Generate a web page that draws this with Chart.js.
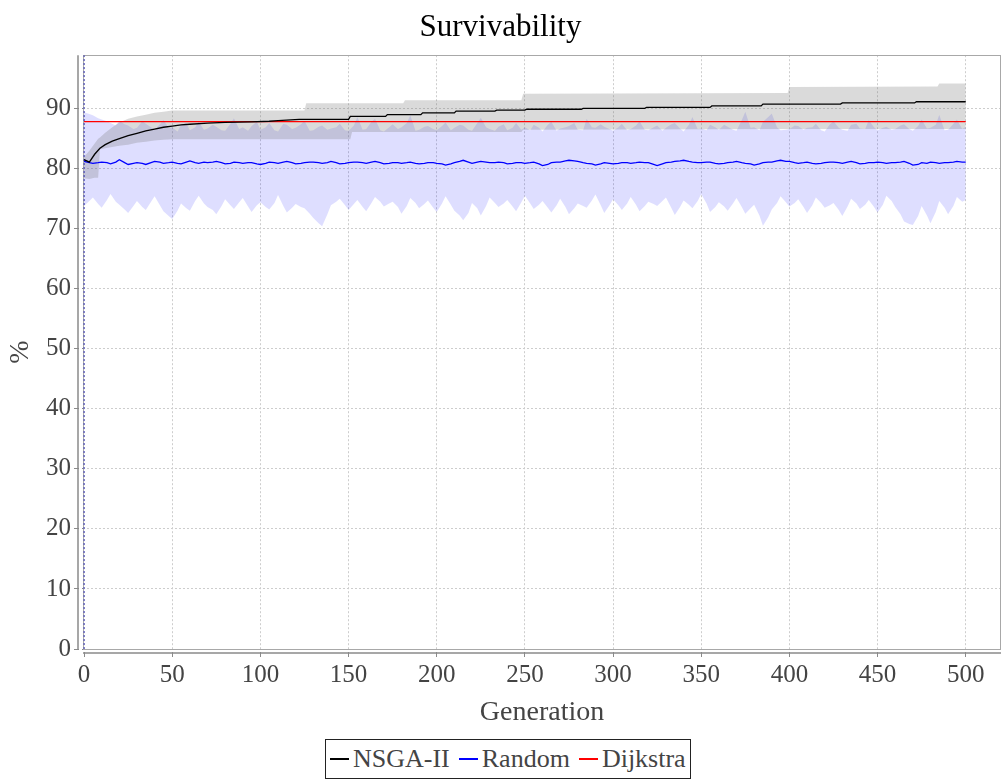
<!DOCTYPE html>
<html>
<head>
<meta charset="utf-8">
<script src="https://cdn.jsdelivr.net/npm/chart.js@4.4.1/dist/chart.umd.min.js"></script>
<style>
html, body { margin: 0; padding: 0; background: #fff; }
#wrap { position: relative; width: 1003px; height: 780px; overflow: hidden; }
canvas { display: block; }
#legend {
  position: absolute; left: 325px; top: 739px; height: 40px;
  border: 1px solid #222; box-sizing: border-box; padding: 0 4px;
  font-family: 'Liberation Serif', 'Times New Roman', serif; font-size: 26px; color: #444;
  display: flex; align-items: center; white-space: nowrap; background: #fff;
}
#legend .item { display: flex; align-items: center; margin-right: 9px; }
#legend .item:last-child { margin-right: 0; }
#legend .sw { display: inline-block; width: 19px; height: 1.3px; margin-right: 4px; }
</style>
</head>
<body>
<div id="wrap">
  <canvas id="c" width="1003" height="780"></canvas>
  <div id="legend"></div>
</div>
<script>
// ---------- data ----------
const seriesNames = ['NSGA-II', 'Random', 'Dijkstra'];
const seriesColors = ['#000000', '#0000ff', '#ff0000'];

// Random: readings at generations 0,5,10,...,500
const generations = [0,5,10,15,20,25,30,35,40,45,50,55,60,65,70,75,80,85,90,95,
  100,105,110,115,120,125,130,135,140,145,150,155,160,165,170,175,180,185,190,195,
  200,205,210,215,220,225,230,235,240,245,250,255,260,265,270,275,280,285,290,295,
  300,305,310,315,320,325,330,335,340,345,350,355,360,365,370,375,380,385,390,395,
  400,405,410,415,420,425,430,435,440,445,450,455,460,465,470,475,480,485,490,495,500];

const randomMean = [
  81.2, 80.9, 81.1, 80.8, 81.5, 80.7, 81.0, 80.7, 81.2, 80.9,
  81.1, 80.8, 81.3, 80.9, 81.0, 81.2, 80.8, 81.1, 80.9, 81.0,
  80.7, 81.1, 80.9, 81.2, 80.8, 81.0, 81.1, 80.9, 81.2, 80.8,
  81.0, 81.1, 80.9, 81.2, 80.8, 81.0, 80.9, 81.1, 80.8, 81.0,
  80.9, 80.6, 81.0, 81.4, 80.9, 81.2, 81.0, 81.1, 80.8, 81.0,
  80.9, 81.1, 80.5, 81.0, 81.1, 81.4, 81.2, 80.9, 80.6, 81.0,
  80.8, 81.0, 80.9, 81.1, 81.0, 80.5, 81.0, 81.2, 81.4, 81.1,
  81.0, 81.1, 80.8, 81.0, 81.2, 80.9, 80.6, 81.0, 81.1, 81.4,
  81.2, 80.9, 81.1, 80.8, 81.0, 81.1, 80.9, 81.2, 80.8, 81.0,
  81.1, 80.9, 81.0, 81.2, 80.6, 81.0, 81.1, 80.9, 81.0, 81.2,
  81.1];

const randomMax = [
  89.4, 88.9, 88.2, 87.6, 88.0, 87.2, 86.8, 87.5, 86.5, 88.1,
  86.9, 87.3, 86.4, 87.8, 86.7, 87.0, 86.3, 88.4, 86.9, 87.1,
  86.5, 87.6, 86.2, 87.3, 86.8, 88.0, 86.4, 87.2, 86.7, 87.5,
  86.3, 88.6, 86.6, 88.3, 86.2, 87.4, 86.9, 88.9, 86.5, 87.1,
  86.4, 87.7, 86.8, 87.2, 86.3, 88.5, 86.6, 87.0, 86.4, 87.6,
  86.9, 87.3, 86.2, 87.8, 86.7, 87.1, 86.5, 88.3, 86.8, 87.0,
  86.3, 87.5, 86.6, 87.9, 86.4, 87.2, 86.8, 87.6, 86.2, 88.6,
  86.7, 87.3, 86.5, 87.0, 86.3, 89.5, 86.9, 87.8, 89.2, 86.4,
  86.6, 87.1, 86.8, 87.5, 86.2, 87.9, 86.5, 87.3, 86.7, 88.1,
  86.4, 87.0, 86.6, 87.4, 86.3, 88.2, 86.8, 89.0, 86.5, 88.2,
  87.0];

const randomMin = [
  73.8, 75.2, 73.5, 75.8, 74.0, 72.6, 74.6, 73.1, 75.4, 72.9,
  71.6, 74.2, 73.0, 75.5, 73.6, 72.4, 74.9, 73.3, 75.1, 72.8,
  74.4, 73.2, 75.6, 72.7, 74.1, 73.4, 71.8, 70.4, 73.9, 75.0,
  73.1, 74.8, 72.9, 75.3, 73.7, 74.5, 72.5, 75.1, 73.4, 74.7,
  72.8, 75.4, 73.0, 71.4, 74.3, 72.2, 75.2, 73.6, 74.8, 72.9,
  75.5, 73.3, 74.6, 72.7, 75.0, 72.4, 74.2, 73.5, 75.7, 72.6,
  74.9, 73.1, 75.3, 72.9, 74.5, 73.8, 75.2, 72.3, 74.7, 73.4,
  75.8, 72.8, 74.4, 73.0, 75.1, 72.5, 74.0, 70.5, 73.2, 75.4,
  73.7, 74.9, 72.6, 75.2, 73.5, 74.3, 72.1, 75.0, 73.3, 74.8,
  72.7, 75.5, 73.6, 71.2, 70.6, 73.8, 70.9, 74.6, 72.4, 75.3,
  74.8];

// Random: extra readings at generations 3,8,13,...,498
const generationsB = [3,8,13,18,23,28,33,38,43,48,53,58,63,68,73,78,83,88,93,98,
  103,108,113,118,123,128,133,138,143,148,153,158,163,168,173,178,183,188,193,198,
  203,208,213,218,223,228,233,238,243,248,253,258,263,268,273,278,283,288,293,298,
  303,308,313,318,323,328,333,338,343,348,353,358,363,368,373,378,383,388,393,398,
  403,408,413,418,423,428,433,438,443,448,453,458,463,468,473,478,483,488,493,498];

const randomMeanB = [
  81.0, 81.0, 81.0, 81.1, 81.0, 80.9, 80.9, 81.0, 81.1, 81.0,
  80.9, 81.1, 81.0, 81.1, 81.1, 81.0, 80.9, 81.0, 81.0, 80.8,
  80.9, 81.0, 81.1, 81.0, 80.9, 81.1, 81.0, 81.0, 81.0, 80.9,
  81.1, 81.0, 81.1, 81.0, 80.9, 81.0, 81.0, 80.9, 80.9, 81.0,
  80.8, 80.8, 81.2, 81.1, 81.1, 81.1, 81.0, 81.0, 80.9, 81.0,
  81.0, 80.8, 80.7, 81.1, 81.3, 81.3, 81.0, 80.8, 80.8, 80.9,
  80.9, 81.0, 81.0, 81.0, 80.7, 80.8, 81.1, 81.3, 81.2, 81.0,
  81.1, 80.9, 80.9, 81.1, 81.0, 80.8, 80.8, 81.1, 81.3, 81.2,
  81.0, 81.0, 80.9, 80.9, 81.1, 81.0, 81.1, 81.0, 80.9, 81.0,
  81.0, 81.0, 81.1, 80.9, 80.7, 80.9, 81.0, 81.0, 81.1, 81.1];

const randomMaxB = [
  89.1, 88.4, 87.9, 87.2, 87.4, 86.6, 87.9, 86.9, 87.4, 86.8,
  86.2, 87.6, 86.9, 86.5, 87.3, 86.4, 87.5, 86.6, 86.3, 87.8,
  86.9, 86.4, 87.5, 86.6, 87.4, 86.3, 87.0, 86.5, 86.9, 86.4,
  87.2, 86.5, 87.8, 86.4, 86.9, 86.6, 87.6, 86.3, 87.0, 86.6,
  87.1, 86.4, 87.3, 86.5, 87.6, 86.9, 86.3, 87.4, 86.8, 86.5,
  86.4, 86.8, 87.3, 86.3, 86.9, 87.6, 86.4, 86.9, 87.4, 86.6,
  86.9, 86.4, 87.2, 86.5, 86.9, 86.3, 87.4, 86.7, 87.3, 86.6,
  86.4, 86.9, 87.3, 86.5, 88.1, 86.8, 86.4, 88.6, 86.9, 86.5,
  87.2, 86.5, 86.9, 86.4, 87.4, 86.8, 86.3, 87.5, 86.6, 86.9,
  86.8, 86.5, 87.2, 86.6, 87.1, 86.7, 87.3, 86.4, 87.5, 86.6];

const randomMinB = [
  74.6, 74.1, 74.8, 74.5, 73.2, 73.8, 73.6, 74.5, 73.9, 72.1,
  73.0, 73.4, 74.6, 74.2, 73.1, 73.8, 73.9, 74.4, 73.7, 73.9,
  73.6, 74.3, 73.8, 73.5, 73.6, 72.5, 70.9, 72.4, 74.5, 73.9,
  74.1, 73.6, 74.3, 74.5, 74.2, 73.6, 73.8, 74.3, 74.1, 73.5,
  74.2, 74.0, 72.2, 72.6, 73.4, 73.8, 74.3, 74.2, 73.7, 74.4,
  74.2, 74.0, 73.5, 73.9, 73.6, 73.4, 73.8, 74.7, 73.9, 73.9,
  73.9, 74.2, 74.0, 73.8, 74.1, 74.6, 73.5, 73.6, 74.0, 74.6,
  74.2, 73.6, 73.7, 74.2, 73.6, 73.4, 72.2, 71.9, 74.3, 74.4,
  74.3, 73.6, 73.9, 74.3, 73.9, 73.1, 73.7, 74.2, 74.0, 73.6,
  74.0, 74.6, 72.4, 70.8, 72.1, 72.2, 72.8, 73.5, 73.8, 74.5];

const randomStartGen = [0, 0];
const randomStart = [0, 100];

const nsgaBandGen = [0, 3, 6, 8, 9, 12, 16, 20, 25, 30, 35, 40, 45, 50, 125, 126, 151, 152, 181, 182, 248, 249, 399, 400, 484, 485, 500];
const nsgaMax = [82.0, 83.0, 84.2, 85.0, 85.2, 86.0, 86.9, 87.7, 88.3, 88.7, 89.0, 89.3, 89.5, 89.7, 89.7, 90.9, 90.9, 90.9, 90.9, 91.4, 91.4, 92.5, 92.6, 93.6, 93.7, 94.2, 94.2];
const nsgaMin = [78.4, 78.3, 78.5, 78.5, 83.2, 83.4, 83.6, 83.8, 84.0, 84.3, 84.5, 84.7, 84.8, 84.9, 84.9, 84.9, 84.9, 86.1, 86.1, 86.1, 86.1, 86.5, 86.6, 86.6, 86.6, 86.6, 86.6];

const nsgaMeanGen = [0, 3, 6, 9, 12, 16, 20, 25, 30, 35, 40, 45, 50, 55, 60, 70, 80, 95, 105, 110,
  122, 150, 151, 171, 172, 191, 192, 210, 211, 233, 234, 250, 251, 282, 283, 318, 319, 355, 356, 384,
  385, 429, 430, 471, 472, 500];
const nsgaMean = [81.5, 81.1, 82.4, 83.4, 84.0, 84.6, 85.0, 85.5, 85.9, 86.3, 86.6, 86.9, 87.1, 87.3, 87.4, 87.6, 87.7, 87.8, 87.9, 88.0,
  88.2, 88.2, 88.7, 88.7, 89.0, 89.0, 89.3, 89.3, 89.6, 89.6, 89.75, 89.75, 89.9, 89.9, 90.05, 90.05, 90.2, 90.2, 90.45, 90.45,
  90.75, 90.75, 90.95, 90.95, 91.15, 91.15];

const dijkstraGen = [0, 500];
const dijkstra = [87.85, 87.85];

const xTickValues = [0, 50, 100, 150, 200, 250, 300, 350, 400, 450, 500];
const yTickValues = [0, 10, 20, 30, 40, 50, 60, 70, 80, 90];

// ---------- chart ----------
const FONT = "'Liberation Serif', 'Times New Roman', serif";
const toXY = (xs, ys) => xs.map((x, i) => ({ x: x, y: ys[i] }));
const merged = (xa, ya, xb, yb) => toXY(xa, ya).concat(toXY(xb, yb)).sort((p, q) => p.x - q.x);
const NONE = 'rgba(0,0,0,0)';

const datasets = [
  { label: seriesNames[0], data: toXY(nsgaMeanGen, nsgaMean), borderColor: seriesColors[0], borderWidth: 1.3, order: 0 },
  { label: seriesNames[2], data: toXY(dijkstraGen, dijkstra), borderColor: seriesColors[2], borderWidth: 1.3, order: 1 },
  { label: seriesNames[1], data: merged(generations, randomMean, generationsB, randomMeanB), borderColor: seriesColors[1], borderWidth: 1.3, order: 2 },
  { label: '_randomStart', data: toXY(randomStartGen, randomStart), borderColor: 'rgba(50,50,190,0.9)', borderWidth: 1, borderDash: [2, 2], order: 3 },
  { label: '_nsgaMax', data: toXY(nsgaBandGen, nsgaMax), borderColor: NONE, borderWidth: 0, backgroundColor: 'rgba(120,120,120,0.27)', fill: '+1', order: 4 },
  { label: '_nsgaMin', data: toXY(nsgaBandGen, nsgaMin), borderColor: NONE, borderWidth: 0, fill: false, order: 5 },
  { label: '_randomMax', data: merged(generations, randomMax, generationsB, randomMaxB), borderColor: NONE, borderWidth: 0, backgroundColor: 'rgba(0,0,255,0.13)', fill: '+1', order: 6 },
  { label: '_randomMin', data: merged(generations, randomMin, generationsB, randomMinB), borderColor: NONE, borderWidth: 0, fill: false, order: 7 }
];

const axisFrame = {
  id: 'axisFrame',
  beforeDatasetsDraw(chart) {
    const { ctx, chartArea: a } = chart;
    ctx.save();
    ctx.strokeStyle = '#a8a8a8';
    ctx.lineWidth = 1;
    ctx.strokeRect(Math.round(a.left) + 0.5, Math.round(a.top) + 0.5, Math.round(a.right - a.left) - 1, Math.round(a.bottom - a.top));
    ctx.restore();
  },
  afterDraw(chart) {
    const { ctx, chartArea: a } = chart;
    ctx.save();
    ctx.fillStyle = '#ffffff';
    ctx.fillRect(a.left - 4, a.top - 1, 3, a.bottom - a.top + 12);
    ctx.fillRect(a.left - 10, a.bottom + 1, a.right - a.left + 12, 2);
    ctx.strokeStyle = '#8a8a8a';
    ctx.lineWidth = 1.5;
    ctx.beginPath();
    ctx.moveTo(a.left - 5, a.top);
    ctx.lineTo(a.left - 5, a.bottom);
    ctx.stroke();
    ctx.beginPath();
    ctx.moveTo(a.left, a.bottom + 4);
    ctx.lineTo(a.right, a.bottom + 4);
    ctx.stroke();
    ctx.restore();
  }
};

new Chart(document.getElementById('c'), {
  type: 'line',
  data: { datasets: datasets },
  plugins: [axisFrame],
  options: {
    responsive: false,
    animation: false,
    events: [],
    elements: { point: { radius: 0 }, line: { tension: 0 } },
    layout: { padding: { left: 0, right: 2, top: 0, bottom: 0 } },
    plugins: {
      legend: { display: false },
      tooltip: { enabled: false },
      title: {
        display: true, text: 'Survivability', color: '#000',
        font: { family: FONT, size: 31, weight: 'normal' },
        padding: { top: 9, bottom: 9 }
      }
    },
    scales: {
      x: {
        type: 'linear', min: -0.6, max: 520,
        afterBuildTicks: (s) => { s.ticks = xTickValues.map(v => ({ value: v })); },
        afterFit: (s) => { s.height = 131; },
        ticks: { color: '#444', font: { family: FONT, size: 25 }, padding: 3, maxRotation: 0, autoSkip: false },
        grid: { color: '#cdcdcd', lineWidth: 1, tickLength: 8, tickColor: '#8a8a8a', tickWidth: 1 },
        border: { display: false, dash: [2, 2] },
        title: { display: true, text: 'Generation', color: '#444', font: { family: FONT, size: 28 }, padding: { top: 0, bottom: 51 } }
      },
      y: {
        type: 'linear', min: 0, max: 98.9,
        afterBuildTicks: (s) => { s.ticks = yTickValues.map(v => ({ value: v })); },
        afterFit: (s) => { s.width = 83; },
        ticks: { color: '#444', font: { family: FONT, size: 25 }, padding: 3 },
        grid: { color: '#cdcdcd', lineWidth: 1, tickLength: 9, tickColor: '#8a8a8a', tickWidth: 1 },
        border: { display: false, dash: [2, 2] },
        title: { display: true, text: '%', color: '#444', font: { family: FONT, size: 28 }, padding: { top: 4, bottom: 0 } }
      }
    }
  }
});

// ---------- legend (HTML, real text) ----------
const legendEl = document.getElementById('legend');
[0, 1, 2].forEach(i => {
  const item = document.createElement('span');
  item.className = 'item';
  const sw = document.createElement('span');
  sw.className = 'sw';
  sw.style.backgroundColor = seriesColors[i];
  const tx = document.createElement('span');
  tx.textContent = seriesNames[i];
  item.appendChild(sw);
  item.appendChild(tx);
  legendEl.appendChild(item);
});
</script>
</body>
</html>
